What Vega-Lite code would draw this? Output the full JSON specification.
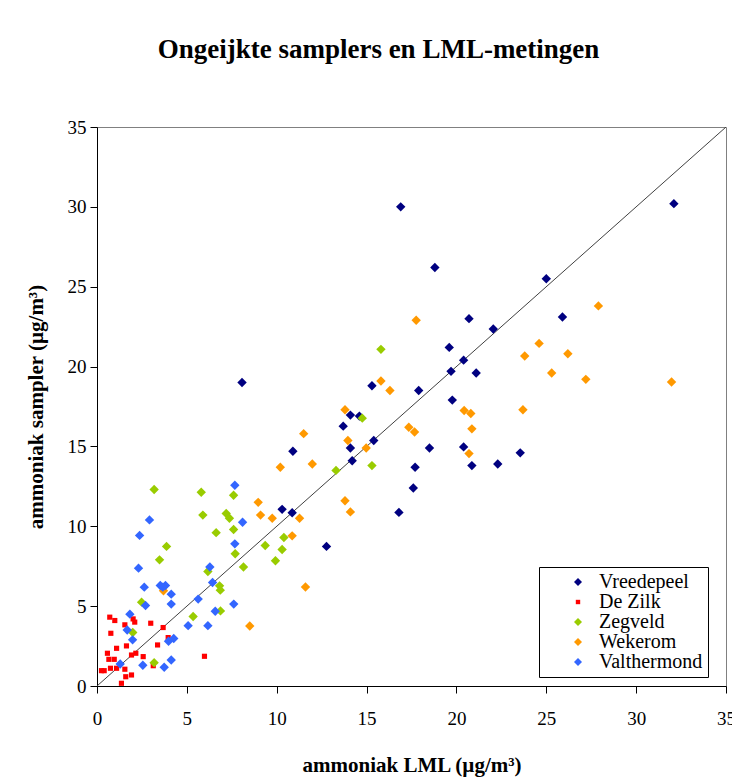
{
  "$schema": "https://vega.github.io/schema/vega-lite/v6.json",
  "width": 629,
  "height": 559,
  "autosize": {"type": "none"},
  "padding": {"left": 97, "top": 127, "right": 6, "bottom": 98},
  "background": "white",
  "title": {
    "text": "Ongeijkte samplers en LML-metingen",
    "font": "Liberation Serif",
    "fontSize": 27,
    "fontWeight": "bold",
    "color": "black",
    "anchor": "middle",
    "dx": -33,
    "offset": 54
  },
  "config": {
    "font": "Liberation Serif",
    "view": {"stroke": "#808080", "strokeWidth": 1},
    "axis": {
      "grid": false,
      "domainColor": "black",
      "tickColor": "black",
      "tickSize": 7,
      "labelFont": "Liberation Serif",
      "labelFontSize": 19,
      "labelFontWeight": "normal",
      "labelColor": "black",
      "titleFont": "Liberation Serif",
      "titleFontSize": 21,
      "titleFontWeight": "bold",
      "titleColor": "black"
    },
    "legend": {
      "labelFont": "Liberation Serif",
      "labelFontSize": 20,
      "labelColor": "black"
    }
  },
  "datasets": {
    "diag": [{"lml": 0, "sampler": 0}, {"lml": 35, "sampler": 35}],
    "pts": [
      {"s": "Vreedepeel", "lml": 16.9, "sampler": 30.0},
      {"s": "Vreedepeel", "lml": 32.1, "sampler": 30.2},
      {"s": "Vreedepeel", "lml": 18.8, "sampler": 26.2},
      {"s": "Vreedepeel", "lml": 25.0, "sampler": 25.5},
      {"s": "Vreedepeel", "lml": 20.7, "sampler": 23.0},
      {"s": "Vreedepeel", "lml": 25.9, "sampler": 23.1},
      {"s": "Vreedepeel", "lml": 22.05, "sampler": 22.35},
      {"s": "Vreedepeel", "lml": 8.07, "sampler": 19.0},
      {"s": "Vreedepeel", "lml": 19.6, "sampler": 21.2},
      {"s": "Vreedepeel", "lml": 20.4, "sampler": 20.4},
      {"s": "Vreedepeel", "lml": 19.7, "sampler": 19.7},
      {"s": "Vreedepeel", "lml": 21.1, "sampler": 19.6},
      {"s": "Vreedepeel", "lml": 15.3, "sampler": 18.8},
      {"s": "Vreedepeel", "lml": 17.9, "sampler": 18.5},
      {"s": "Vreedepeel", "lml": 19.77, "sampler": 17.9},
      {"s": "Vreedepeel", "lml": 14.1, "sampler": 16.96},
      {"s": "Vreedepeel", "lml": 14.6, "sampler": 16.9},
      {"s": "Vreedepeel", "lml": 13.7, "sampler": 16.27},
      {"s": "Vreedepeel", "lml": 15.4, "sampler": 15.37},
      {"s": "Vreedepeel", "lml": 14.1, "sampler": 14.9},
      {"s": "Vreedepeel", "lml": 18.5, "sampler": 14.9},
      {"s": "Vreedepeel", "lml": 10.9, "sampler": 14.7},
      {"s": "Vreedepeel", "lml": 14.2, "sampler": 14.1},
      {"s": "Vreedepeel", "lml": 17.7, "sampler": 13.7},
      {"s": "Vreedepeel", "lml": 17.6, "sampler": 12.4},
      {"s": "Vreedepeel", "lml": 10.3, "sampler": 11.06},
      {"s": "Vreedepeel", "lml": 10.86, "sampler": 10.85},
      {"s": "Vreedepeel", "lml": 16.8, "sampler": 10.87},
      {"s": "Vreedepeel", "lml": 12.77, "sampler": 8.74},
      {"s": "Vreedepeel", "lml": 20.4, "sampler": 14.97},
      {"s": "Vreedepeel", "lml": 20.86, "sampler": 13.8},
      {"s": "Vreedepeel", "lml": 22.3, "sampler": 13.9},
      {"s": "Vreedepeel", "lml": 23.55, "sampler": 14.6},
      {"s": "De Zilk", "lml": 0.71, "sampler": 4.31},
      {"s": "De Zilk", "lml": 0.99, "sampler": 4.1},
      {"s": "De Zilk", "lml": 1.55, "sampler": 3.83},
      {"s": "De Zilk", "lml": 2.01, "sampler": 4.2},
      {"s": "De Zilk", "lml": 2.1, "sampler": 4.0},
      {"s": "De Zilk", "lml": 2.99, "sampler": 3.93},
      {"s": "De Zilk", "lml": 3.68, "sampler": 3.66},
      {"s": "De Zilk", "lml": 0.77, "sampler": 3.3},
      {"s": "De Zilk", "lml": 3.96, "sampler": 3.03},
      {"s": "De Zilk", "lml": 3.37, "sampler": 2.57},
      {"s": "De Zilk", "lml": 1.09, "sampler": 2.36},
      {"s": "De Zilk", "lml": 1.64, "sampler": 2.51},
      {"s": "De Zilk", "lml": 0.58, "sampler": 2.05},
      {"s": "De Zilk", "lml": 1.92, "sampler": 1.94},
      {"s": "De Zilk", "lml": 2.16, "sampler": 2.05},
      {"s": "De Zilk", "lml": 2.57, "sampler": 1.84},
      {"s": "De Zilk", "lml": 0.66, "sampler": 1.67},
      {"s": "De Zilk", "lml": 0.96, "sampler": 1.67},
      {"s": "De Zilk", "lml": 0.75, "sampler": 1.11},
      {"s": "De Zilk", "lml": 1.09, "sampler": 1.11},
      {"s": "De Zilk", "lml": 0.25, "sampler": 0.96},
      {"s": "De Zilk", "lml": 0.4, "sampler": 0.96},
      {"s": "De Zilk", "lml": 1.55, "sampler": 1.05},
      {"s": "De Zilk", "lml": 1.92, "sampler": 0.69},
      {"s": "De Zilk", "lml": 1.6, "sampler": 0.58},
      {"s": "De Zilk", "lml": 1.36, "sampler": 0.17},
      {"s": "De Zilk", "lml": 3.13, "sampler": 1.27},
      {"s": "De Zilk", "lml": 5.98, "sampler": 1.86},
      {"s": "Zegveld", "lml": 15.8, "sampler": 21.08},
      {"s": "Zegveld", "lml": 14.76, "sampler": 16.77},
      {"s": "Zegveld", "lml": 13.3, "sampler": 13.5},
      {"s": "Zegveld", "lml": 15.3, "sampler": 13.8},
      {"s": "Zegveld", "lml": 3.18, "sampler": 12.3},
      {"s": "Zegveld", "lml": 5.8, "sampler": 12.13},
      {"s": "Zegveld", "lml": 7.6, "sampler": 11.94},
      {"s": "Zegveld", "lml": 5.89, "sampler": 10.7},
      {"s": "Zegveld", "lml": 7.19, "sampler": 10.8},
      {"s": "Zegveld", "lml": 7.37, "sampler": 10.5},
      {"s": "Zegveld", "lml": 6.63, "sampler": 9.6},
      {"s": "Zegveld", "lml": 7.6, "sampler": 9.8},
      {"s": "Zegveld", "lml": 10.4, "sampler": 9.3},
      {"s": "Zegveld", "lml": 7.69, "sampler": 8.28},
      {"s": "Zegveld", "lml": 9.36, "sampler": 8.8},
      {"s": "Zegveld", "lml": 10.3, "sampler": 8.55},
      {"s": "Zegveld", "lml": 9.93, "sampler": 7.84},
      {"s": "Zegveld", "lml": 8.15, "sampler": 7.45},
      {"s": "Zegveld", "lml": 3.87, "sampler": 8.74},
      {"s": "Zegveld", "lml": 3.48, "sampler": 7.9},
      {"s": "Zegveld", "lml": 6.17, "sampler": 7.17},
      {"s": "Zegveld", "lml": 6.82, "sampler": 6.27},
      {"s": "Zegveld", "lml": 6.86, "sampler": 6.0},
      {"s": "Zegveld", "lml": 2.48, "sampler": 5.25},
      {"s": "Zegveld", "lml": 5.35, "sampler": 4.35},
      {"s": "Zegveld", "lml": 6.87, "sampler": 4.7},
      {"s": "Zegveld", "lml": 1.99, "sampler": 3.35},
      {"s": "Zegveld", "lml": 3.18, "sampler": 1.46},
      {"s": "Wekerom", "lml": 27.9, "sampler": 23.8},
      {"s": "Wekerom", "lml": 24.6, "sampler": 21.45},
      {"s": "Wekerom", "lml": 23.8, "sampler": 20.66},
      {"s": "Wekerom", "lml": 26.2, "sampler": 20.8},
      {"s": "Wekerom", "lml": 25.3, "sampler": 19.6},
      {"s": "Wekerom", "lml": 27.2, "sampler": 19.2},
      {"s": "Wekerom", "lml": 31.97, "sampler": 19.03},
      {"s": "Wekerom", "lml": 23.7, "sampler": 17.3},
      {"s": "Wekerom", "lml": 20.43, "sampler": 17.25},
      {"s": "Wekerom", "lml": 20.8, "sampler": 17.06},
      {"s": "Wekerom", "lml": 20.86, "sampler": 16.1},
      {"s": "Wekerom", "lml": 20.7, "sampler": 14.55},
      {"s": "Wekerom", "lml": 17.76, "sampler": 22.9},
      {"s": "Wekerom", "lml": 15.8, "sampler": 19.1},
      {"s": "Wekerom", "lml": 16.3, "sampler": 18.5},
      {"s": "Wekerom", "lml": 13.8, "sampler": 17.3},
      {"s": "Wekerom", "lml": 17.35, "sampler": 16.2},
      {"s": "Wekerom", "lml": 17.67, "sampler": 15.9},
      {"s": "Wekerom", "lml": 11.5, "sampler": 15.8},
      {"s": "Wekerom", "lml": 13.96, "sampler": 15.37},
      {"s": "Wekerom", "lml": 14.98, "sampler": 14.9},
      {"s": "Wekerom", "lml": 10.2, "sampler": 13.7},
      {"s": "Wekerom", "lml": 11.98, "sampler": 13.9},
      {"s": "Wekerom", "lml": 8.97, "sampler": 11.5},
      {"s": "Wekerom", "lml": 13.8, "sampler": 11.6},
      {"s": "Wekerom", "lml": 14.1, "sampler": 10.9},
      {"s": "Wekerom", "lml": 9.1, "sampler": 10.7},
      {"s": "Wekerom", "lml": 9.75, "sampler": 10.5},
      {"s": "Wekerom", "lml": 11.27, "sampler": 10.5},
      {"s": "Wekerom", "lml": 10.86, "sampler": 9.4},
      {"s": "Wekerom", "lml": 11.6, "sampler": 6.2},
      {"s": "Wekerom", "lml": 8.5, "sampler": 3.76},
      {"s": "Wekerom", "lml": 3.7, "sampler": 5.96},
      {"s": "Valthermond", "lml": 7.67, "sampler": 12.57},
      {"s": "Valthermond", "lml": 2.92, "sampler": 10.4},
      {"s": "Valthermond", "lml": 8.1, "sampler": 10.25},
      {"s": "Valthermond", "lml": 2.37, "sampler": 9.43},
      {"s": "Valthermond", "lml": 7.67, "sampler": 8.9},
      {"s": "Valthermond", "lml": 2.31, "sampler": 7.38},
      {"s": "Valthermond", "lml": 6.28, "sampler": 7.45},
      {"s": "Valthermond", "lml": 2.63, "sampler": 6.19},
      {"s": "Valthermond", "lml": 3.52, "sampler": 6.29},
      {"s": "Valthermond", "lml": 3.81, "sampler": 6.29},
      {"s": "Valthermond", "lml": 3.66, "sampler": 6.19},
      {"s": "Valthermond", "lml": 4.13, "sampler": 5.75},
      {"s": "Valthermond", "lml": 2.7, "sampler": 5.04},
      {"s": "Valthermond", "lml": 4.13, "sampler": 5.13},
      {"s": "Valthermond", "lml": 6.43, "sampler": 6.48},
      {"s": "Valthermond", "lml": 5.63, "sampler": 5.44},
      {"s": "Valthermond", "lml": 7.61, "sampler": 5.13},
      {"s": "Valthermond", "lml": 6.58, "sampler": 4.68},
      {"s": "Valthermond", "lml": 1.83, "sampler": 4.5},
      {"s": "Valthermond", "lml": 1.68, "sampler": 3.51},
      {"s": "Valthermond", "lml": 1.98, "sampler": 2.89},
      {"s": "Valthermond", "lml": 3.98, "sampler": 2.8},
      {"s": "Valthermond", "lml": 4.27, "sampler": 2.97},
      {"s": "Valthermond", "lml": 5.07, "sampler": 3.78},
      {"s": "Valthermond", "lml": 6.17, "sampler": 3.78},
      {"s": "Valthermond", "lml": 1.29, "sampler": 1.38},
      {"s": "Valthermond", "lml": 2.55, "sampler": 1.3},
      {"s": "Valthermond", "lml": 3.74, "sampler": 1.17},
      {"s": "Valthermond", "lml": 4.13, "sampler": 1.63}
    ]
  },
  "encoding": {
    "x": {
      "field": "lml",
      "type": "quantitative",
      "scale": {"domain": [0, 35], "nice": false, "zero": true},
      "axis": {
        "title": "ammoniak LML (µg/m³)",
        "values": [0, 5, 10, 15, 20, 25, 30, 35],
        "labelPadding": 16,
        "titlePadding": 26,
        "labelOverlap": false,
        "labelFlush": false
      }
    },
    "y": {
      "field": "sampler",
      "type": "quantitative",
      "scale": {"domain": [0, 35], "nice": false, "zero": true},
      "axis": {
        "title": "ammoniak sampler (µg/m³)",
        "values": [0, 5, 10, 15, 20, 25, 30, 35],
        "labelPadding": 4,
        "titlePadding": 21,
        "labelOverlap": false,
        "labelFlush": false
      }
    }
  },
  "layer": [
    {
      "data": {"name": "diag"},
      "mark": {"type": "line", "color": "#404040", "strokeWidth": 1, "clip": true},
      "encoding": {}
    },
    {
      "data": {"name": "pts"},
      "mark": {"type": "point", "filled": true, "opacity": 1, "strokeWidth": 0, "size": 88},
      "encoding": {
        "color": {
          "field": "s",
          "type": "nominal",
          "scale": {
            "domain": ["Vreedepeel", "De Zilk", "Zegveld", "Wekerom", "Valthermond"],
            "range": ["#000080", "#FF0000", "#99CC00", "#FF9900", "#3366FF"]
          },
          "legend": {
            "title": null,
            "orient": "none",
            "legendX": 442,
            "legendY": 440,
            "padding": 5,
            "symbolOffset": 24,
            "labelOffset": 11,
            "labelFont": "Liberation Serif",
            "labelFontSize": 20,
            "labelColor": "black",
            "rowPadding": 0,
            "symbolSize": 64,
            "strokeColor": "black",
            "fillColor": "white"
          }
        },
        "shape": {
          "field": "s",
          "type": "nominal",
          "scale": {
            "domain": ["Vreedepeel", "De Zilk", "Zegveld", "Wekerom", "Valthermond"],
            "range": [
              "M-1,0L0,-1L1,0L0,1Z",
              "M-0.55,-0.55H0.55V0.55H-0.55Z",
              "M-1,0L0,-1L1,0L0,1Z",
              "M-1,0L0,-1L1,0L0,1Z",
              "M-1,0L0,-1L1,0L0,1Z"
            ]
          },
          "legend": {
            "title": null,
            "orient": "none",
            "legendX": 442,
            "legendY": 440,
            "padding": 5,
            "symbolOffset": 24,
            "labelOffset": 11,
            "labelFont": "Liberation Serif",
            "labelFontSize": 20,
            "labelColor": "black",
            "rowPadding": 0,
            "symbolSize": 64,
            "strokeColor": "black",
            "fillColor": "white"
          }
        }
      }
    }
  ]
}
